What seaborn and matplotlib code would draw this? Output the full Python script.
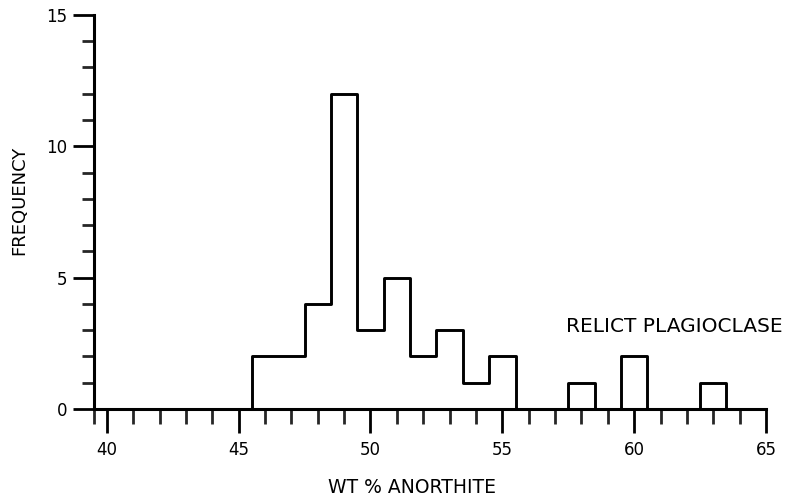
import numpy as np
import pandas as pd
import matplotlib
matplotlib.use("Agg")
import matplotlib.pyplot as plt
from matplotlib.ticker import MultipleLocator, FixedLocator
import seaborn as sns

# Histogram data (bin centres in wt % anorthite, counts)
bin_centers = [45, 46, 47, 48, 49, 50, 51, 52, 53, 54, 55, 56, 57, 58, 59, 60, 61, 62, 63, 64]
counts      = [0, 2, 2, 4, 12, 3, 5, 2, 3, 1, 2, 0, 0, 1, 0, 2, 0, 0, 1, 0]
x_ticks = [40, 45, 50, 55, 60, 65]
y_ticks = [0, 5, 10, 15]

df = pd.DataFrame({"an": bin_centers, "n": counts})

sns.set_style("ticks")
plt.rcParams['font.family'] = ['DejaVu Sans']
plt.rcParams['text.color'] = 'black'
plt.rcParams['axes.labelcolor'] = 'black'

fig = plt.figure(figsize=(7.93, 4.98), dpi=100)
ax = fig.add_axes([0.118, 0.1787, 0.966 - 0.118, 0.970 - 0.1787])

sns.histplot(data=df, x="an", weights="n", binwidth=1,
             binrange=(min(bin_centers) - 0.5, max(bin_centers) + 0.5),
             element="step", fill=False, color="black", linewidth=2.1, ax=ax)
for ln in ax.lines:
    ln.set_clip_on(False)

ax.set_xlim(39.5, 65)
ax.set_ylim(0, 15)
ax.set_xticks(x_ticks)
ax.set_yticks(y_ticks)
ax.xaxis.set_minor_locator(FixedLocator([39.5] + list(range(41, 65))))
ax.yaxis.set_minor_locator(MultipleLocator(1))

for s in ["top", "right"]:
    ax.spines[s].set_visible(False)
for s in ["left", "bottom"]:
    ax.spines[s].set_linewidth(2.2)
    ax.spines[s].set_color("black")

ax.tick_params(axis="x", which="major", direction="out", length=17, width=2.0,
               labelsize=12, pad=6, colors="black")
ax.tick_params(axis="x", which="minor", direction="out", length=11, width=2.0)
ax.tick_params(axis="y", which="major", direction="out", length=15, width=2.0,
               labelsize=12, pad=4, colors="black")
ax.tick_params(axis="y", which="minor", direction="out", length=8.5, width=2.0)

ax.set_xlabel("WT % ANORTHITE", fontsize=13.5)
ax.xaxis.set_label_coords(0.473, -0.198)
ax.xaxis.label.set_va("center")
ax.set_ylabel("FREQUENCY", fontsize=13)
ax.yaxis.set_label_coords(-0.111, 0.53)
ax.yaxis.label.set_va("center")

ax.text(57.4, 3.15, "RELICT PLAGIOCLASE", fontsize=14.5, ha="left", va="center")

fig.savefig("out.png", dpi=100)
